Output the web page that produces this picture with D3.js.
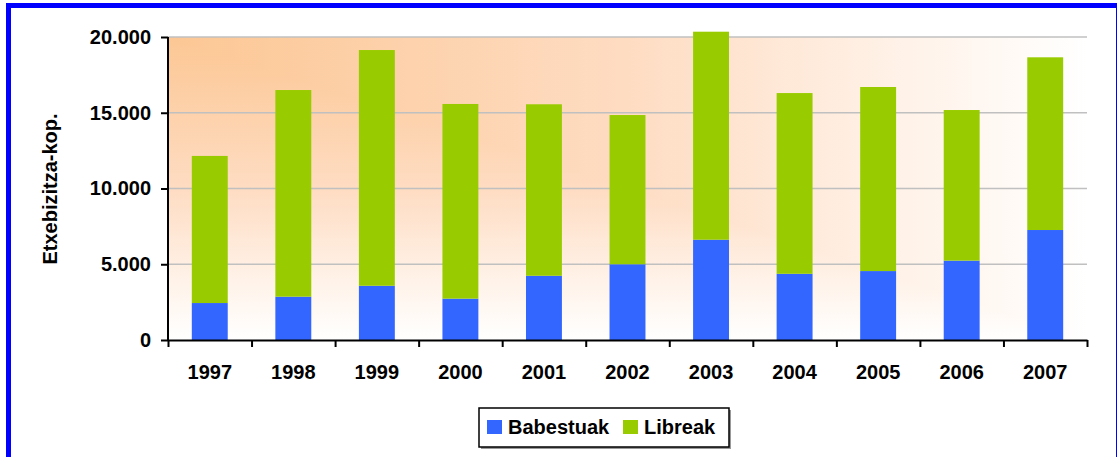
<!DOCTYPE html>
<html>
<head>
<meta charset="utf-8">
<script src="https://cdn.jsdelivr.net/npm/d3@7"></script>
<style>
  body { margin: 0; background: #fff; }
  svg { display: block; font-family: 'Liberation Sans', Arial, sans-serif; font-weight: bold; }
</style>
</head>
<body>
<div id="chart"></div>
<script>
const years = ['1997', '1998', '1999', '2000', '2001', '2002', '2003', '2004', '2005', '2006', '2007']
const babestuak = [2440, 2860, 3580, 2730, 4240, 5000, 6620, 4370, 4550, 5240, 7260]
const libreak = [9710, 13640, 15560, 12850, 11320, 9850, 13730, 11930, 12150, 9940, 11400]
const yTicks = [0, 5000, 10000, 15000, 20000]
const seriesNames = ['Babestuak', 'Libreak']
const colors = ['#3366FF', '#99CC00']

const width = 1117
const height = 457
const margin = { top: 37, right: 30, bottom: 117, left: 168 }
const boundWidth = width - margin.left - margin.right
const boundHeight = height - margin.top - margin.bottom
const fontSize = 20

const svg = d3.select('#chart')
  .append('svg')
  .attr('width', width)
  .attr('height', height)

// outer frame
svg.append('rect')
  .attr('x', 8.5).attr('y', 5.5)
  .attr('width', 1110).attr('height', 470)
  .attr('fill', 'none')
  .attr('stroke', '#0000FF')
  .attr('stroke-width', 5)

const defs = svg.append('defs')
const stops = [[0, '#FCC794'], [0.5, '#FEDCC2'], [0.8, '#FFF2E8'], [1, '#FFFFFF']]
const hGrad = defs.append('linearGradient').attr('id', 'hgrad').attr('x1', 0).attr('x2', 1).attr('y1', 0).attr('y2', 0)
const vGrad = defs.append('linearGradient').attr('id', 'vgrad').attr('x1', 0).attr('x2', 0).attr('y1', 0).attr('y2', 1)
stops.forEach(([o, c]) => {
  hGrad.append('stop').attr('offset', o).attr('stop-color', c)
  vGrad.append('stop').attr('offset', o).attr('stop-color', c)
})

const bounds = svg.append('g')
  .attr('transform', `translate(${margin.left}, ${margin.top})`)

// "from corner" fill: lighten-blend of horizontal and vertical gradients
const bg = bounds.append('g').style('isolation', 'isolate')
bg.append('rect').attr('width', boundWidth).attr('height', boundHeight).attr('fill', 'url(#hgrad)')
bg.append('rect').attr('width', boundWidth).attr('height', boundHeight).attr('fill', 'url(#vgrad)')
  .style('mix-blend-mode', 'lighten')

const x = d3.scaleBand()
  .domain(years)
  .range([0, boundWidth])
  .paddingInner(0.57)
  .paddingOuter(0.285)

const y = d3.scaleLinear()
  .domain([0, 20000])
  .range([boundHeight, 0])

const locale = d3.formatLocale({ decimal: ',', thousands: '.', grouping: [3], currency: ['', ''] })
const fmt = locale.format(',')

// gridlines
bounds.append('g')
  .selectAll('line')
  .data(yTicks.slice(1))
  .join('line')
  .attr('x1', 0).attr('x2', boundWidth)
  .attr('y1', d => y(d)).attr('y2', d => y(d))
  .attr('stroke', '#C0C0C0')
  .attr('stroke-width', 1.5)

// stacked bars
const rows = years.map((yr, i) => ({ year: yr, Babestuak: babestuak[i], Libreak: libreak[i] }))
const stacked = d3.stack().keys(seriesNames)(rows)

bounds.append('g')
  .selectAll('g')
  .data(stacked)
  .join('g')
  .attr('fill', (d, i) => colors[i])
  .selectAll('rect')
  .data(d => d)
  .join('rect')
  .attr('x', d => x(d.data.year))
  .attr('width', x.bandwidth())
  .attr('y', d => y(d[1]))
  .attr('height', d => y(d[0]) - y(d[1]))

const styleText = g => g.selectAll('.tick text')
  .attr('font-size', fontSize).attr('font-weight', 'bold').attr('fill', '#000')
  .attr('font-family', "'Liberation Sans', Arial, sans-serif")

// y axis
bounds.append('g')
  .call(d3.axisLeft(y).tickValues(yTicks).tickFormat(fmt).tickSize(7).tickPadding(10))
  .call(g => g.select('.domain').attr('stroke', '#000').attr('stroke-width', 2).attr('d', `M0,${boundHeight}V0`))
  .call(g => g.selectAll('.tick line').attr('stroke', '#000').attr('stroke-width', 2))
  .call(styleText)

// x axis: boundary ticks
const xEdges = d3.scaleLinear().domain([0, years.length]).range([0, boundWidth])
bounds.append('g')
  .attr('transform', `translate(0, ${boundHeight})`)
  .call(d3.axisBottom(xEdges).ticks(years.length).tickFormat('').tickSize(7).tickSizeOuter(0))
  .call(g => g.select('.domain').attr('stroke', '#000').attr('stroke-width', 2))
  .call(g => g.selectAll('.tick line').attr('stroke', '#000').attr('stroke-width', 2))

// x axis: labels
bounds.append('g')
  .attr('transform', `translate(0, ${boundHeight})`)
  .call(d3.axisBottom(x).tickSize(0).tickPadding(25))
  .call(g => g.select('.domain').remove())
  .call(styleText)

// y label
svg.append('text')
  .attr('transform', 'translate(57, 189) rotate(-90)')
  .attr('text-anchor', 'middle')
  .attr('font-size', fontSize)
  .text('Etxebizitza-kop.')

// legend
const legend = svg.append('g').attr('transform', 'translate(479, 408)')
legend.append('rect').attr('x', 2).attr('y', 2).attr('width', 250).attr('height', 39).attr('fill', '#999')
legend.append('rect').attr('width', 250).attr('height', 39).attr('fill', '#fff').attr('stroke', '#000').attr('stroke-width', 1.5)
const legendX = [8, 144]
seriesNames.forEach((name, i) => {
  legend.append('rect')
    .attr('x', legendX[i]).attr('y', 12)
    .attr('width', 15).attr('height', 14)
    .attr('fill', colors[i])
  legend.append('text')
    .attr('x', legendX[i] + 21).attr('y', 26)
    .attr('font-size', fontSize)
    .text(name)
})
</script>
</body>
</html>
